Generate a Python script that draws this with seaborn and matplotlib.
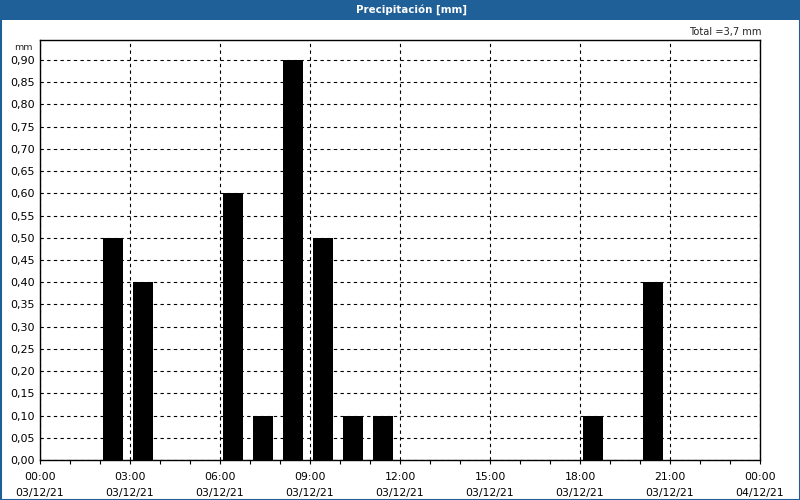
import matplotlib
matplotlib.use("Agg")
import matplotlib.pyplot as plt
import seaborn as sns
import numpy as np
import pandas as pd
from matplotlib.patches import Rectangle

# ---- data ----
hours = [2, 3, 6, 7, 8, 9, 10, 11, 18, 20]
values = [0.5, 0.4, 0.6, 0.1, 0.9, 0.5, 0.1, 0.1, 0.1, 0.4]
tick_hours = [0, 3, 6, 9, 12, 15, 18, 21, 24]
tick_labels = ["00:00\n03/12/21", "03:00\n03/12/21", "06:00\n03/12/21", "09:00\n03/12/21",
               "12:00\n03/12/21", "15:00\n03/12/21", "18:00\n03/12/21", "21:00\n03/12/21",
               "00:00\n04/12/21"]
y_ticks = [round(0.05 * i, 2) for i in range(19)]
title = "Precipitación [mm]"
total_label = "Total =3,7 mm"
unit_label = "mm"

sns.set_theme(style="white")
plt.rcParams['font.family'] = ['DejaVu Sans']

blue = "#1f6098"
fig = plt.figure(figsize=(8, 5), dpi=100)
ax = fig.add_axes([40 / 800, 40 / 500, 720 / 800, 420 / 500])

df = pd.DataFrame({"hour": np.array(hours) + 0.435, "value": values})
sns.barplot(data=df, x="hour", y="value", native_scale=True, width=0.67,
            color="black", edgecolor="black", linewidth=0, saturation=1, ax=ax)

ax.set_xlim(0, 24)
ax.set_ylim(0, 0.945)
ax.set_xticks(tick_hours)
ax.set_xticklabels(tick_labels, fontsize=7.8, linespacing=1.65)
ax.set_xticks(range(25), minor=True)
ax.set_yticks(y_ticks)
ax.set_yticklabels([f"{v:.2f}".replace(".", ",") for v in y_ticks], fontsize=8)
ax.tick_params(axis="x", which="both", direction="out", length=3, width=0.8,
               bottom=True, colors="black", pad=6)
ax.tick_params(axis="y", which="both", length=0, pad=4, colors="black")
ax.set_xlabel("")
ax.set_ylabel("")
ax.grid(True, axis="both", which="major", color="black", linestyle=(0, (3, 3)), linewidth=0.8)
ax.set_axisbelow(True)
for s in ax.spines.values():
    s.set_visible(True)
    s.set_color("black")
    s.set_linewidth(1)

# title bar and frame
fig.patches.append(Rectangle((0, 480 / 500), 1, 20 / 500, transform=fig.transFigure,
                             facecolor=blue, edgecolor="none", zorder=0))
fig.patches.append(Rectangle((0.5 / 800, 0.5 / 500), 799 / 800, 499 / 500, transform=fig.transFigure,
                             facecolor="none", edgecolor=blue, linewidth=1.5, zorder=5))
fig.text(0.5 + 11 / 800, 1 - 10 / 500, title, color="white", fontsize=7.4, fontweight="bold",
         ha="center", va="center")
fig.text(762 / 800, 1 - 32 / 500, total_label, fontsize=7.1, ha="right", va="center")
fig.text(33 / 800, 1 - 47 / 500, unit_label, fontsize=6.8, ha="right", va="center")

fig.savefig("out.png", dpi=100)
